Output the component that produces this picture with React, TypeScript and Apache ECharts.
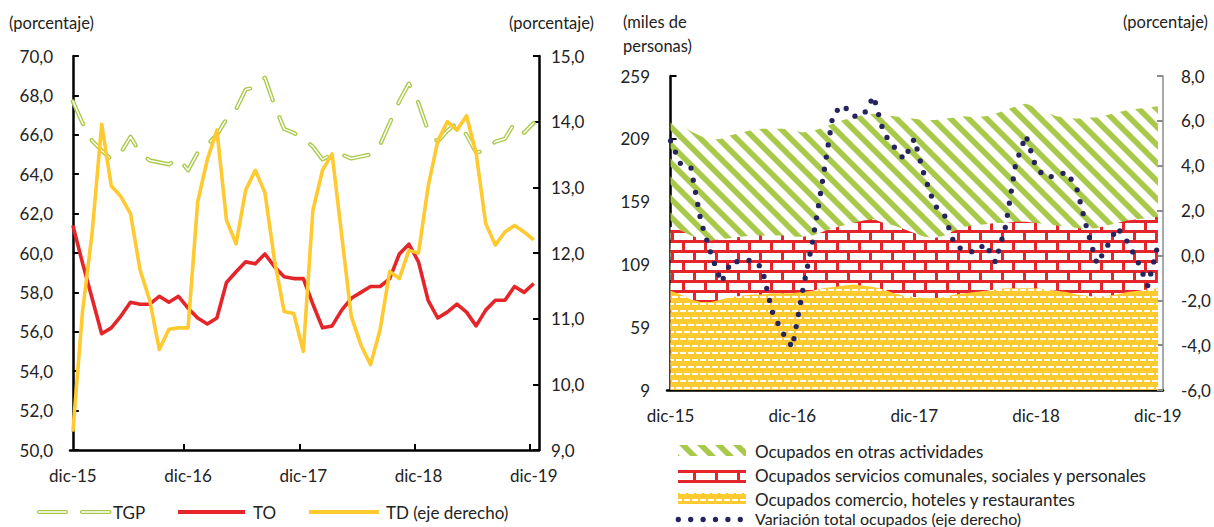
import React, { useEffect, useRef } from 'react';
import * as echarts from 'echarts';

// ---------- data ----------
const X_LABELS = ['dic-15', 'dic-16', 'dic-17', 'dic-18', 'dic-19'];
const X_LABEL_POS = [0, 12, 24, 36, 48];
const X_TICK_POS = [11.6, 23.6, 35.6, 47.55];

// left chart (porcentaje)
const TGP = [67.7, 66.6, 65.7, 65.2, 64.75, 65.1, 65.9, 65.1, 64.7, 64.6, 64.5, 64.8, 64.2, 65.1, 65.5, 66.0, 66.8, 67.3, 68.3, 68.4, 68.9, 67.5, 66.3, 66.1, 65.8, 65.4, 64.75, 65.0, 65.0, 64.8, 64.9, 65.0, 65.5, 66.6, 67.7, 68.6, 67.6, 66.2, 65.65, 66.2, 66.6, 66.0, 65.1, 65.2, 65.65, 65.8, 66.6, 66.1, 66.6];
const TO = [61.4, 59.5, 57.7, 55.9, 56.2, 56.8, 57.5, 57.4, 57.4, 57.8, 57.5, 57.8, 57.2, 56.7, 56.4, 56.7, 58.5, 59.05, 59.55, 59.45, 59.95, 59.3, 58.8, 58.7, 58.7, 57.4, 56.2, 56.3, 57.1, 57.7, 58.0, 58.3, 58.3, 58.7, 59.95, 60.45, 59.55, 57.6, 56.7, 57.0, 57.4, 57.0, 56.3, 57.1, 57.6, 57.6, 58.3, 58.0, 58.45];
const TD = [9.28, 11.1, 12.3, 13.96, 13.02, 12.86, 12.6, 11.74, 11.28, 10.53, 10.84, 10.86, 10.86, 12.78, 13.42, 13.87, 12.5, 12.14, 12.96, 13.26, 12.92, 11.89, 11.11, 11.08, 10.5, 12.65, 13.26, 13.51, 12.27, 11.03, 10.6, 10.3, 10.83, 11.72, 11.61, 12.04, 12.0, 13.01, 13.7, 14.0, 13.87, 14.09, 13.52, 12.45, 12.12, 12.32, 12.42, 12.32, 12.2];

// right chart (miles de personas / porcentaje)
const COMERCIO = [88, 85, 81, 79, 79, 81, 83, 84, 85, 85, 86, 86, 86, 87, 88, 90, 91, 92, 93, 92, 91, 89, 86, 84, 83, 82, 82, 83, 85, 86, 87, 88, 89, 90, 90, 90, 90, 89, 88, 87, 85, 84, 83, 84, 85, 87, 88, 89, 90];
const SERVICIOS = [51, 51, 51, 50, 49, 48, 47, 47, 47, 47, 46, 46, 45, 44, 44, 45, 47, 48, 49, 52, 54, 53, 54, 53, 51, 49, 48, 49, 51, 53, 53, 53, 53, 52, 53, 53, 52, 52, 52, 52, 53, 53, 55, 56, 57, 57, 57, 57, 57];
const OTRAS = [86, 84, 83, 82, 80, 80, 82, 83, 84, 85, 85, 85, 85, 83, 83, 83, 83, 84, 84, 84, 84, 86, 87, 89, 91, 93, 94, 93, 90, 88, 86, 86, 87, 90, 92, 94, 92, 89, 87, 87, 87, 89, 88, 88, 88, 88, 88, 88, 88];
const VARIACION = [5.11, 4.07, 3.93, 1.5, 0.05, -1.2, -0.25, -0.3, -0.2, -0.55, -2.5, -3.42, -4.1, -1.6, 0.65, 3.4, 6.3, 6.7, 6.2, 6.25, 7.1, 5.45, 4.85, 4.28, 5.2, 3.55, 2.25, 1.77, 0.45, 0.22, 0.14, 0.52, -0.3, 1.3, 4.1, 5.35, 3.9, 3.48, 3.55, 3.72, 3.0, 1.2, -0.38, 0.4, 1.25, 0.6, -0.25, -1.35, 0.46];

const RIGHT_LEFT_TICKS = [9, 59, 109, 159, 209, 259];

const SERIES_NAMES = {
  tgp: 'TGP',
  to: 'TO',
  td: 'TD (eje derecho)',
  otras: 'Ocupados en otras actividades',
  servicios: 'Ocupados servicios comunales, sociales y personales',
  comercio: 'Ocupados comercio, hoteles y restaurantes',
  variacion: 'Variación total ocupados (eje derecho)',
};

// ---------- styles ----------
const FONT = 'Lato, "Open Sans", "DejaVu Sans", sans-serif';
const TEXT = '#222222';
const GREEN = '#A9C94A';
const RED = '#E4262B';
const YELLOW = '#FFC930';
const NAVY = '#25245E';

function makePattern(w: number, h: number, draw: (ctx: CanvasRenderingContext2D) => void) {
  const c = document.createElement('canvas');
  c.width = w;
  c.height = h;
  const ctx = c.getContext('2d') as CanvasRenderingContext2D;
  draw(ctx);
  return { image: c.toDataURL(), repeat: 'repeat', imageWidth: w, imageHeight: h } as any;
}

const fmt1 = (v: number) => v.toFixed(1).replace('.', ',');

function buildOption() {
  const stripes = makePattern(18, 18, (ctx) => {
    ctx.fillStyle = GREEN;
    for (let k = -2; k <= 1; k++) {
      const o = k * 18;
      ctx.beginPath();
      ctx.moveTo(o, 0);
      ctx.lineTo(o + 8, 0);
      ctx.lineTo(o + 8 + 18, 18);
      ctx.lineTo(o + 18, 18);
      ctx.closePath();
      ctx.fill();
    }
  });
  const bricks = makePattern(22, 20, (ctx) => {
    ctx.fillStyle = '#ffffff';
    ctx.fillRect(0, 0, 22, 20);
    ctx.fillStyle = RED;
    ctx.fillRect(0, 0, 22, 3);
    ctx.fillRect(0, 10, 22, 3);
    ctx.fillRect(0, 3, 3, 7);
    ctx.fillRect(11, 13, 3, 7);
  });
  const basket = makePattern(8, 14, (ctx) => {
    ctx.fillStyle = YELLOW;
    ctx.fillRect(0, 0, 8, 14);
    ctx.fillStyle = '#ffffff';
    ctx.fillRect(0, 2, 6, 2);
    ctx.fillRect(4, 9, 4, 2);
    ctx.fillRect(0, 9, 2, 2);
  });

  // cumulative tops of the stacked areas (drawn back to front)
  const topServicios = COMERCIO.map((v, i) => v + SERVICIOS[i]);
  const topOtras = topServicios.map((v, i) => v + OTRAS[i]);

  const xLabel = (v: number) => {
    const k = X_LABEL_POS.indexOf(Math.round(v));
    return k >= 0 ? X_LABELS[k] : '';
  };
  const labelStyle = { color: TEXT, fontSize: 17, fontFamily: FONT };
  const mkX = (gridIndex: number, min: number, max: number) => ({
    type: 'value',
    gridIndex,
    min,
    max,
    axisLine: { show: true, onZero: false, lineStyle: { color: '#000', width: 2.5 } },
    axisTick: { show: true, inside: true, length: 6, customValues: X_TICK_POS, lineStyle: { color: '#000', width: 2 } },
    axisLabel: { ...labelStyle, customValues: X_LABEL_POS, formatter: xLabel, margin: 17 },
    splitLine: { show: false },
  });
  const mkY = (gridIndex: number, position: string, extra: any, color = '#000', width = 2.5) => ({
    type: 'value',
    gridIndex,
    position,
    axisLine: { show: true, lineStyle: { color, width } },
    axisTick: { show: true, inside: true, length: 6, lineStyle: { color, width: 2 } },
    splitLine: { show: false },
    ...extra,
    axisLabel: { ...labelStyle, ...(extra.axisLabel || {}) },
  });

  const idx = (arr: number[]) => arr.map((v, i) => [i, v]);

  const txt = (x: number, y: number, text: string, align = 'left', size = 17) => ({
    type: 'text',
    x,
    y,
    silent: true,
    style: { text, fill: TEXT, font: `${size}px ${FONT}`, textAlign: align, textVerticalAlign: 'middle' },
  });
  const seg = (x1: number, x2: number, y: number, stroke: string, lineWidth: number, cap = 'butt', lineDash?: number[]) => ({
    type: 'line',
    silent: true,
    shape: { x1, y1: y, x2, y2: y },
    style: { stroke, lineWidth, lineCap: cap, lineDash },
  });
  const swatch = (x: number, y: number, w: number, h: number, fill: any) => ({
    type: 'rect',
    silent: true,
    shape: { x, y, width: w, height: h },
    style: { fill },
  });

  const area = (name: string, values: number[], fill: any) => ({
    name,
    type: 'line',
    xAxisIndex: 1,
    yAxisIndex: 2,
    data: idx(values),
    symbol: 'none',
    lineStyle: { width: 0, opacity: 0 },
    areaStyle: { color: fill, opacity: 1 },
  });

  return {
    animation: false,
    backgroundColor: '#ffffff',
    grid: [
      { left: 70, top: 56, width: 469, height: 394, containLabel: false, outerBoundsMode: 'none' },
      { left: 667, top: 76, width: 496, height: 314, containLabel: false, outerBoundsMode: 'none' },
    ],
    xAxis: [mkX(0, -0.3, 48.55), mkX(1, -0.35, 48.5)],
    yAxis: [
      mkY(0, 'left', { min: 50, max: 70, interval: 2, axisLabel: { formatter: fmt1, margin: 17 } }),
      mkY(0, 'right', { min: 9, max: 15, interval: 1, axisLabel: { formatter: fmt1, margin: 12 } }),
      mkY(1, 'left', {
        min: 9,
        max: 259,
        axisTick: { show: true, inside: true, length: 6, customValues: RIGHT_LEFT_TICKS, lineStyle: { color: '#000', width: 2 } },
        axisLabel: { customValues: RIGHT_LEFT_TICKS, formatter: (v: number) => String(Math.round(v)), margin: 17 },
      }),
      mkY(1, 'right', { min: -6, max: 8, interval: 2, axisLabel: { formatter: fmt1, margin: 18 } }, '#8c8c8c', 1.5),
    ],
    series: [
      {
        name: SERIES_NAMES.tgp, type: 'line', xAxisIndex: 0, yAxisIndex: 0, data: idx(TGP), symbol: 'none',
        lineStyle: { color: GREEN, width: 4.2, type: [25, 18], cap: 'round', join: 'round' },
      },
      {
        name: SERIES_NAMES.tgp + ' ', type: 'line', xAxisIndex: 0, yAxisIndex: 0, data: idx(TGP), symbol: 'none',
        lineStyle: { color: '#ffffff', width: 1.5, type: [25, 18], cap: 'round', join: 'round' },
      },
      {
        name: SERIES_NAMES.to, type: 'line', xAxisIndex: 0, yAxisIndex: 0, data: idx(TO), symbol: 'none',
        lineStyle: { color: RED, width: 3.6, join: 'round' },
      },
      {
        name: SERIES_NAMES.td, type: 'line', xAxisIndex: 0, yAxisIndex: 1, data: idx(TD), symbol: 'none',
        lineStyle: { color: YELLOW, width: 3.6, join: 'round' },
      },
      area(SERIES_NAMES.otras, topOtras, stripes),
      area(SERIES_NAMES.servicios, topServicios, bricks),
      area(SERIES_NAMES.comercio, COMERCIO, basket),
      {
        name: SERIES_NAMES.variacion, type: 'line', xAxisIndex: 1, yAxisIndex: 3, data: idx(VARIACION), symbol: 'none',
        lineStyle: { color: NAVY, width: 5.3, type: [0, 12.3], cap: 'round', join: 'round' },
      },
    ],
    graphic: [
      txt(9, 22.5, '(porcentaje)', 'left', 16.5),
      txt(594, 22.5, '(porcentaje)', 'right', 16.5),
      txt(623, 22, '(miles de', 'left', 16.5),
      txt(623, 46, 'personas)', 'left', 16.5),
      txt(1208, 22, '(porcentaje)', 'right', 16.5),
      // left legend
      seg(39, 66, 512, GREEN, 4.2, 'round'),
      seg(39, 66, 512, '#ffffff', 1.5, 'round'),
      seg(82, 109.5, 512, GREEN, 4.2, 'round'),
      seg(82, 109.5, 512, '#ffffff', 1.5, 'round'),
      txt(113, 512, SERIES_NAMES.tgp),
      seg(178, 245, 512, RED, 4),
      txt(253, 512, SERIES_NAMES.to),
      seg(309, 379, 512, YELLOW, 4),
      txt(386, 512, SERIES_NAMES.td),
      // right legend
      swatch(678, 445, 68, 11, stripes),
      txt(755, 451.5, SERIES_NAMES.otras),
      swatch(678, 470, 68, 13, bricks),
      txt(755, 475.5, SERIES_NAMES.servicios),
      swatch(678, 493, 68, 11, basket),
      txt(755, 499, SERIES_NAMES.comercio),
      seg(678.3, 740.3, 519.5, NAVY, 5.3, 'round', [0, 12.4]),
      txt(755, 518, SERIES_NAMES.variacion, 'left', 16),
    ],
  };
}

export default function App() {
  const ref = useRef<HTMLDivElement>(null);
  useEffect(() => {
    if (!ref.current) return;
    const chart = echarts.init(ref.current, undefined, { renderer: 'svg' });
    chart.setOption(buildOption() as any);
    return () => chart.dispose();
  }, []);
  return (
    <div
      ref={ref}
      style={{ position: 'fixed', left: 0, top: 0, width: 1214, height: 527, background: '#fff' }}
    />
  );
}
